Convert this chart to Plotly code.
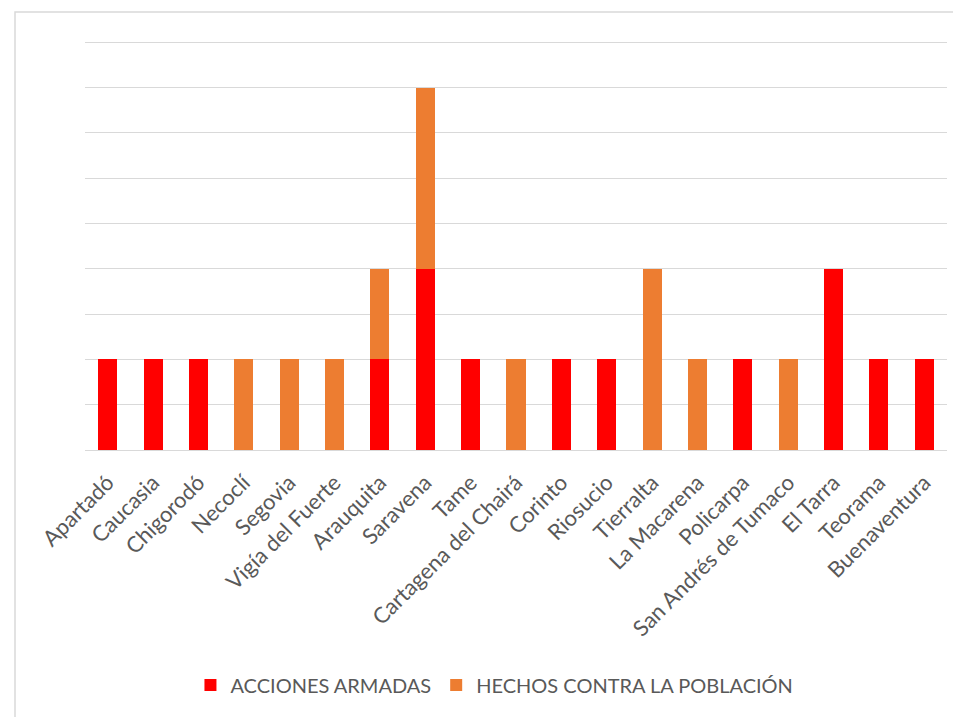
import plotly.graph_objects as go

municipios = ["Apartadó", "Caucasia", "Chigorodó", "Necoclí", "Segovia", "Vigía del Fuerte",
              "Arauquita", "Saravena", "Tame", "Cartagena del Chairá", "Corinto", "Riosucio",
              "Tierralta", "La Macarena", "Policarpa", "San Andrés de Tumaco", "El Tarra",
              "Teorama", "Buenaventura"]
acciones_armadas = [2, 2, 2, 0, 0, 0, 2, 4, 2, 0, 2, 2, 0, 0, 2, 0, 4, 2, 2]
hechos_poblacion = [0, 0, 0, 2, 2, 2, 2, 4, 0, 2, 0, 0, 4, 2, 0, 2, 0, 0, 0]

font_family = "Lato, 'Open Sans', sans-serif"
text_color = "#595959"
grid_color = "#d9d9d9"

fig = go.Figure()
fig.add_trace(go.Bar(x=municipios, y=acciones_armadas, name="ACCIONES ARMADAS",
                     marker=dict(color="#FF0000", line=dict(width=0))))
fig.add_trace(go.Bar(x=municipios, y=hechos_poblacion, name="HECHOS CONTRA LA POBLACIÓN",
                     marker=dict(color="#ED7D31", line=dict(width=0))))

# page body has an 8px offset; figure sized so the plot lands where the reference has it
fig.update_layout(
    width=953, height=709,
    barmode="stack", bargap=0.58,
    paper_bgcolor="white", plot_bgcolor="white",
    margin=dict(l=77, r=14, t=32, b=267, autoexpand=False),
    font=dict(family=font_family, color=text_color, size=20),
    showlegend=True,
    legend=dict(orientation="h", x=0.475, xanchor="center", y=-0.573, yanchor="middle",
                traceorder="normal", font=dict(size=20, color=text_color),
                itemwidth=30),
    xaxis=dict(tickangle=-45, showgrid=False, showline=True, linecolor=grid_color,
               linewidth=1, ticks="", automargin=False, ticklabelstandoff=10,
               tickfont=dict(size=22, color=text_color)),
    yaxis=dict(range=[0, 9.05], dtick=1, showticklabels=False, showgrid=True,
               gridcolor=grid_color, gridwidth=1, zeroline=False, ticks="",
               automargin=False),
    shapes=[dict(type="rect", xref="paper", yref="paper", x0=-0.0812, x1=1.2,
                 y0=-1.2, y1=1.068, line=dict(color=grid_color, width=1.5),
                 fillcolor="rgba(0,0,0,0)", layer="below")],
)

fig.write_html("out.html")
